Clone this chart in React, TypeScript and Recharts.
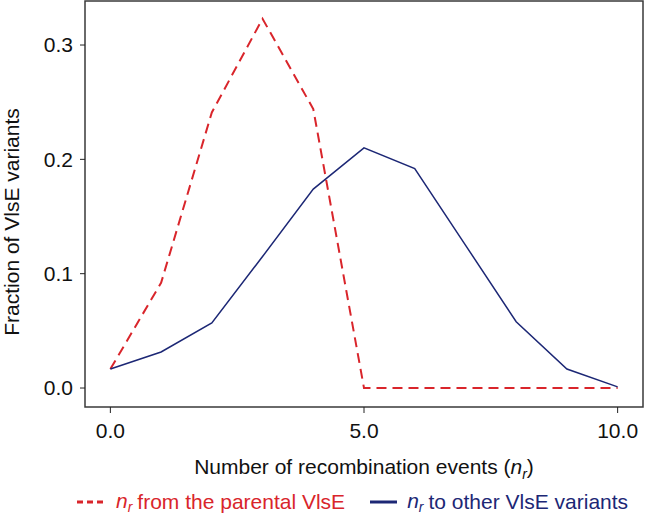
import { LineChart, Line, XAxis, YAxis, ReferenceArea, Legend, Label } from 'recharts';

const nr = [0, 1, 2, 3, 4, 5, 6, 7, 8, 9, 10];
const fromParental = [0.0166, 0.092, 0.241, 0.323, 0.244, 0, 0, 0, 0, 0, 0];
const toOther = [0.0166, 0.0315, 0.057, 0.115, 0.174, 0.21, 0.192, 0.125, 0.058, 0.0166, 0.001];
const xTicks = [0, 5, 10];
const yTicks = [0, 0.1, 0.2, 0.3];

const RED = '#d9252b';
const BLUE = '#1c2775';
const FONT = '"Liberation Sans", Arial, sans-serif';
const X_DOMAIN: [number, number] = [-0.5, 10.5];
const Y_DOMAIN: [number, number] = [-0.0166, 0.3385];

const data = nr.map((n, i) => ({ n, parental: fromParental[i], other: toOther[i] }));

function YTitle(props: any) {
  const { viewBox } = props;
  const cx = viewBox.x + 11;
  const cy = viewBox.y + viewBox.height / 2 + 18;
  return (
    <text
      x={cx}
      y={cy}
      transform={`rotate(-90, ${cx}, ${cy})`}
      textAnchor="middle"
      dominantBaseline="central"
      fontSize={21}
      fontFamily={FONT}
      fill="#111"
    >
      Fraction of VlsE variants
    </text>
  );
}

function XTitle(props: any) {
  const { viewBox } = props;
  return (
    <text
      x={viewBox.x + viewBox.width / 2}
      y={viewBox.y + 67}
      textAnchor="middle"
      fontSize={21}
      fontFamily={FONT}
      fill="#111"
    >
      Number of recombination events (
      <tspan fontStyle="italic">n</tspan>
      <tspan fontStyle="italic" fontSize={14} dy={5}>r</tspan>
      <tspan dy={-5}>)</tspan>
    </text>
  );
}

function Sub({ color }: { color: string }) {
  return (
    <span style={{ color, fontStyle: 'italic' }}>
      n<sub style={{ fontSize: 14, verticalAlign: -4, marginRight: 5 }}>r</sub>
    </span>
  );
}

function LegendBox() {
  return (
    <div
      style={{
        display: 'flex',
        alignItems: 'center',
        fontFamily: FONT,
        fontSize: 21,
        height: 40,
        paddingLeft: 77,
      }}
    >
      <svg width={26} height={10} style={{ marginRight: 13 }}>
        <line x1={0} y1={5} x2={26} y2={5} stroke={RED} strokeWidth={3} strokeDasharray="6 4" />
      </svg>
      <Sub color={RED} />
      <span style={{ color: RED }}>from the parental VlsE</span>
      <svg width={27} height={10} style={{ marginLeft: 25, marginRight: 10 }}>
        <line x1={0} y1={5} x2={27} y2={5} stroke={BLUE} strokeWidth={3} />
      </svg>
      <Sub color={BLUE} />
      <span style={{ color: BLUE }}>to other VlsE variants</span>
    </div>
  );
}

export default function App() {
  return (
    <div style={{ width: 647, height: 522, background: '#fff' }}>
      <style>{'body{margin:0}'}</style>
      <LineChart width={647} height={522} data={data} margin={{ top: 1, right: 4, bottom: 0, left: 0 }}>
        <ReferenceArea
          x1={X_DOMAIN[0]}
          x2={X_DOMAIN[1]}
          y1={Y_DOMAIN[0]}
          y2={Y_DOMAIN[1]}
          fill="none"
          stroke="#3a3a3a"
          strokeWidth={1.5}
        />
        <XAxis
          dataKey="n"
          type="number"
          domain={X_DOMAIN}
          ticks={xTicks}
          tickFormatter={(v) => v.toFixed(1)}
          height={75}
          axisLine={false}
          tickLine={{ stroke: '#222', strokeWidth: 1 }}
          tickSize={6}
          tickMargin={10}
          tick={{ fill: '#111', fontSize: 21, fontFamily: FONT }}
          allowDataOverflow
        >
          <Label content={<XTitle />} />
        </XAxis>
        <YAxis
          type="number"
          domain={Y_DOMAIN}
          ticks={yTicks}
          tickFormatter={(v) => v.toFixed(1)}
          width={85}
          axisLine={false}
          tickLine={{ stroke: '#222', strokeWidth: 1 }}
          tickSize={5}
          tickMargin={7}
          tick={{ fill: '#111', fontSize: 21, fontFamily: FONT }}
          allowDataOverflow
        >
          <Label content={<YTitle />} />
        </YAxis>
        <Legend verticalAlign="bottom" content={<LegendBox />} wrapperStyle={{ left: 0, width: 647, height: 40 }} />
        <Line
          type="linear"
          dataKey="parental"
          stroke={RED}
          strokeWidth={2}
          strokeDasharray="10 6"
          dot={false}
          isAnimationActive={false}
        />
        <Line
          type="linear"
          dataKey="other"
          stroke={BLUE}
          strokeWidth={1.5}
          dot={false}
          isAnimationActive={false}
        />
      </LineChart>
    </div>
  );
}
